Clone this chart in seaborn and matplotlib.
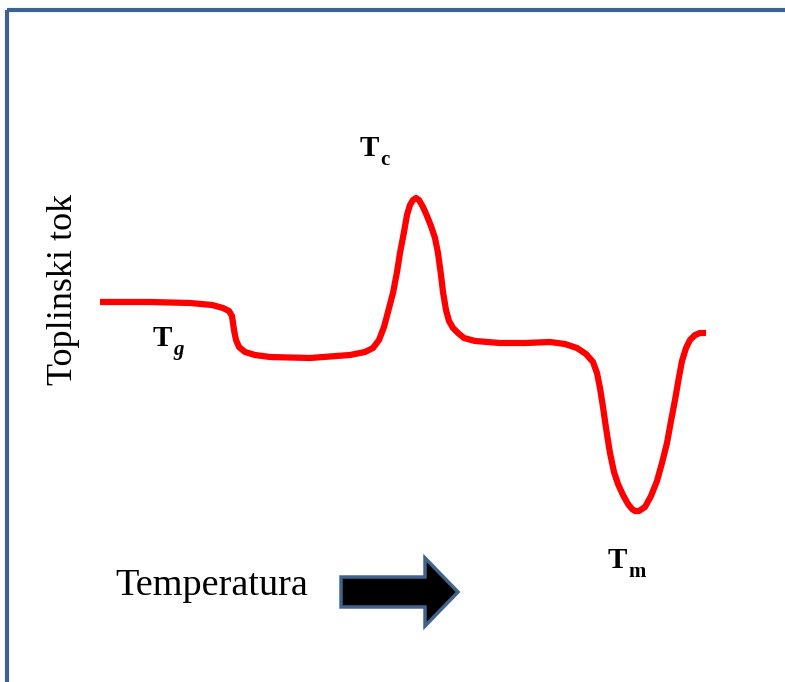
# DSC curve schematic (Tg, Tc, Tm)
import numpy as np
import pandas as pd
import matplotlib
matplotlib.use("Agg")
import matplotlib.pyplot as plt
import matplotlib.patches as mpatches
import seaborn as sns

# curve (x = temperature, y = heat flow, picture units, y grows downwards)
temperatura = [100, 150, 190, 212, 223, 229, 232, 233, 234, 236, 239, 245, 255, 270, 310, 350,
               365, 373, 379, 384, 388, 393, 397, 400, 404, 407, 410, 413, 416, 419, 423, 427,
               431, 435, 438, 441, 443, 446, 449, 453, 458, 464, 475, 500, 525, 550, 565, 577,
               586, 593, 597, 600, 603, 606, 610, 614, 618, 623, 628, 632, 635, 639, 645, 651,
               657, 662, 667, 671, 675, 679, 682, 686, 690, 695, 700, 706]
tok = [302, 302, 303, 305, 308, 311, 316, 323, 330, 340, 347, 352, 355, 357, 358, 355,
       352, 348, 340, 327, 312, 293, 272, 253, 232, 215, 205, 200, 198, 200, 207, 216,
       226, 238, 253, 275, 292, 310, 321, 328, 333, 338, 341, 343, 343, 342, 344, 348,
       354, 362, 373, 388, 407, 428, 453, 472, 484, 495, 504, 509, 511, 511, 507, 496,
       481, 463, 443, 421, 400, 377, 361, 348, 340, 335, 333, 333]

# labels of the transitions: main letter, subscript, position
oznake = ["T", "T", "T"]
indeksi = ["g", "c", "m"]
oznake_x = [153, 360, 608]
oznake_y = [346, 156, 568]

os_y = "Toplinski tok"
os_x = "Temperatura"

df = pd.DataFrame({"temperatura": temperatura, "tok": tok})

sns.set_theme(style="white")
plt.rcParams['font.family'] = ['Liberation Serif', 'DejaVu Serif']
plt.rcParams['text.color'] = 'black'

fig = plt.figure(figsize=(7.85, 6.82), dpi=100)
ax = fig.add_axes([0, 0, 1, 1])
ax.set_xlim(0, 785)
ax.set_ylim(682, 0)
ax.axis("off")

# frame around the picture (only top and left edge are visible)
ax.add_patch(mpatches.Rectangle((6.5, 10), 900, 900, fill=False, ec="#3d6190", lw=3))

sns.lineplot(data=df, x="temperatura", y="tok", color="red", lw=4.5,
             sort=False, estimator=None, ax=ax,
             solid_joinstyle="round", solid_capstyle="butt")

for t, i, x, y in zip(oznake, indeksi, oznake_x, oznake_y):
    ax.text(x, y, t, fontsize=21, fontweight="bold", ha="left", va="baseline")
    sub_style = "italic" if i == "g" else "normal"
    ax.text(x + 20, y + 9, i, fontsize=15, fontweight="bold", style=sub_style,
            ha="left", va="baseline")

ax.text(63, 289, os_y, fontsize=26, rotation=90, ha="center", va="center")
ax.text(115, 595, os_x, fontsize=27.5, ha="left", va="baseline")

# arrow next to the x label
ax.add_patch(mpatches.FancyArrow(341, 592, 117, 0, width=30, head_width=68, head_length=33,
                                 length_includes_head=True, fc="black", ec="#41648f", lw=2.5))

plt.savefig("out.png", dpi=100, facecolor="white")
